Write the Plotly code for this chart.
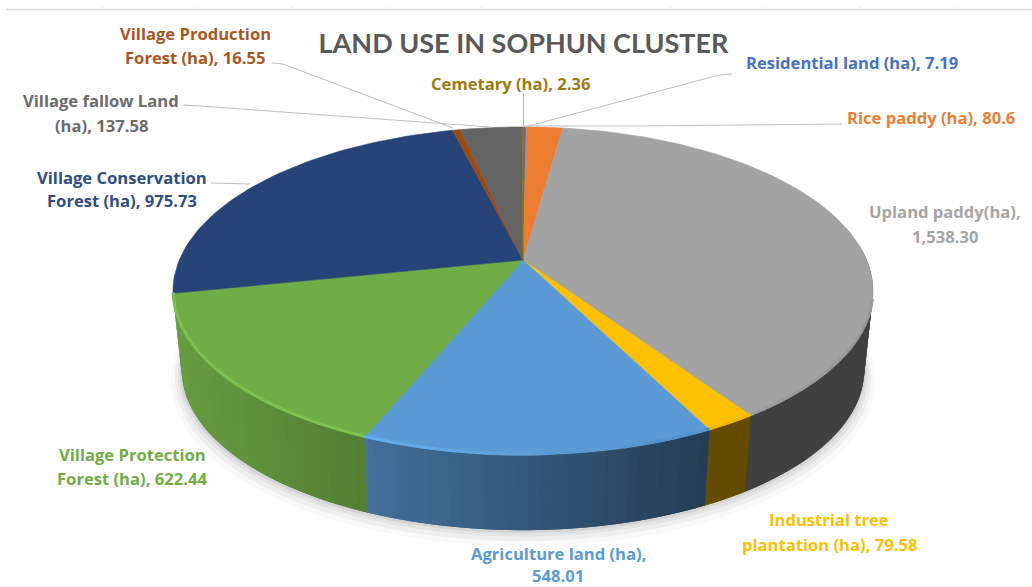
import math
import plotly.graph_objects as go

# ---- data ----
categories = ["Residential land (ha)", "Rice paddy (ha)", "Upland paddy(ha)",
              "Industrial tree plantation (ha)", "Agriculture land (ha)",
              "Village Protection Forest (ha)", "Village Conservation Forest (ha)",
              "Village Production Forest (ha)", "Village fallow Land (ha)", "Cemetary (ha)"]
values = [7.19, 80.6, 1538.30, 79.58, 548.01, 622.44, 975.73, 16.55, 137.58, 2.36]
colors = ["#4472C4", "#ED7D31", "#A3A3A3", "#FFC000", "#5B9BD5",
          "#70AD47", "#264478", "#9E480E", "#636363", "#997300"]
title_text = "LAND USE IN SOPHUN CLUSTER"

# label text lines: (line, center x, center y, colour)
label_lines = [
    ("Village Production", 195, 33, "#A9571F"), ("Forest (ha), 16.55", 195, 57, "#A9571F"),
    ("Village fallow Land", 101, 100, "#6B6B6B"), ("(ha), 137.58", 101, 125, "#6B6B6B"),
    ("Village Conservation", 122, 177, "#2F4E82"), ("Forest (ha), 975.73", 122, 200, "#2F4E82"),
    ("Village Protection", 132, 454, "#70AD47"), ("Forest (ha), 622.44", 132, 478, "#70AD47"),
    ("Cemetary (ha), 2.36", 510, 83, "#9C7A10"),
    ("Residential land (ha), 7.19", 852, 62, "#4472C4"),
    ("Rice paddy (ha), 80.6", 931, 117, "#ED7D31"),
    ("Upland paddy(ha),", 945, 211, "#A5A5A5"), ("1,538.30", 945, 236, "#A5A5A5"),
    ("Industrial tree", 829, 519, "#FFC000"), ("plantation (ha), 79.58", 829, 544, "#FFC000"),
    ("Agriculture land (ha),", 558, 553, "#5B9BD5"), ("548.01", 558, 575, "#5B9BD5"),
]
# leader lines
leaders = [
    [(272, 63), (283, 64), (453, 128)],
    [(183, 105), (200, 106), (490, 127)],
    [(211, 183), (250, 184)],
    [(523.5, 93), (523.5, 127)],
    [(732, 74), (719, 75), (525, 127)],
    [(842, 124), (640, 126), (525, 126)],
]

# ---- projection of the tilted disc ----
CX, CY, A, B, K = 523.0, 260.0, 343.7, 158.2, 0.189
DEPTH, SHRINK = 80.0, 0.975


def top(angle):
    u, v = math.sin(angle), -math.cos(angle)
    w = 1 - K * v
    return CX + A * u / w, CY + B * v / w


def bottom(angle, grow=0.0, dx=0.0, dy=0.0):
    x, y = top(angle)
    s = SHRINK + grow
    return CX + s * (x - CX) + dx, CY + DEPTH + s * (y - CY) + dy


def rgb(hexc):
    return tuple(int(hexc[i:i + 2], 16) for i in (1, 3, 5))


def shade(hexc, f):
    r = rgb(hexc)
    return "rgb(%d,%d,%d)" % tuple(max(0, min(255, round(c * f))) for c in r)


def wall_factor(x):
    return max(0.39, 0.72 - (x - 370) * 0.32 / 330)


def rim_factor(x):
    if x < 370:
        return 1.12
    if x < 560:
        return 1.12 - 0.12 * (x - 370) / 190
    if x < 620:
        return 1.0
    return 0.95


total = sum(values)
edges = [0.0]
for val in values:
    edges.append(edges[-1] + val / total * 2 * math.pi)

fig = go.Figure()


def poly(pts, fill, line=None, lw=0.8):
    fig.add_trace(go.Scatter(
        x=[p[0] for p in pts], y=[p[1] for p in pts], mode="lines",
        fill="toself", fillcolor=fill, hoverinfo="skip", showlegend=False,
        line=dict(color=line or fill, width=lw)))


# soft shadow beneath the disc
ring = [i / 180 * 2 * math.pi for i in range(181)]
for grow, dy, alpha in [(0.030, 10, 0.04), (0.020, 7, 0.06), (0.012, 4, 0.08), (0.005, 2, 0.10)]:
    poly([bottom(t, grow=grow, dy=dy) for t in ring], "rgba(90,90,90,%.2f)" % alpha, lw=0)

# side wall, in narrow strips so it can be shaded across its width;
# each strip runs under the next one, so no seams show
W0, W1 = math.radians(85), edges[6]
for i, col in enumerate(colors):
    a0, a1 = max(edges[i], W0), min(edges[i + 1], W1)
    if a1 <= a0:
        continue
    n = max(1, int(math.degrees(a1 - a0) / 1.5))
    step = (a1 - a0) / n
    for j in range(n):
        s0 = a0 + step * j
        s1 = min(s0 + 2 * step, W1)
        xm = top(s0 + step / 2)[0]
        arc = [top(s0), top((s0 + s1) / 2), top(s1)]
        low = [bottom(s1), bottom((s0 + s1) / 2), bottom(s0)]
        poly(arc + low + [top(s0)], shade(col, wall_factor(xm)), lw=0)

# top face
for i, col in enumerate(colors):
    a0, a1 = edges[i], edges[i + 1]
    n = max(2, int(math.degrees(a1 - a0) / 1.5))
    arc = [top(a0 + (a1 - a0) * j / n) for j in range(n + 1)]
    poly([(CX, CY)] + arc + [(CX, CY)], col, lw=0.6)

# lit bevel along the front rim
R0 = math.radians(104)
for i, col in enumerate(colors):
    a0, a1 = max(edges[i], R0), min(edges[i + 1], W1)
    if a1 <= a0:
        continue
    n = max(1, int(math.degrees(a1 - a0) / 2.5))
    for j in range(n):
        s0 = a0 + (a1 - a0) * j / n
        s1 = a0 + (a1 - a0) * (j + 1) / n
        p0, p1 = top(s0), top(s1)
        f = rim_factor((p0[0] + p1[0]) / 2)
        if abs(f - 1) < 0.005:
            continue
        fig.add_trace(go.Scatter(
            x=[p0[0], p1[0]], y=[p0[1] - 1, p1[1] - 1], mode="lines",
            hoverinfo="skip", showlegend=False,
            line=dict(color=shade(col, f), width=3)))

shapes = []
# sheet line and tick stubs behind the chart
shapes.append(dict(type="line", x0=6, x1=1032, y0=9.5, y1=9.5, line=dict(color="#DADADA", width=1.5)))
for k in range(10):
    tx = 103 + k * 94.6
    shapes.append(dict(type="line", x0=tx, x1=tx, y0=7, y1=9.5, line=dict(color="#E2E2E2", width=1)))
for path in leaders:
    d = "M " + " L ".join("%g %g" % p for p in path)
    shapes.append(dict(type="path", path=d, line=dict(color="#BFBFBF", width=1)))

annotations = [
    dict(text=t, x=x, y=y, xref="x", yref="y", showarrow=False, xanchor="center", yanchor="middle",
         borderpad=0, font=dict(family="Open Sans, sans-serif", size=16.6, color=c, weight=700))
    for t, x, y, c in label_lines
]

fig.update_layout(
    width=1032, height=587, autosize=False,
    margin=dict(l=0, r=0, t=0, b=0),
    paper_bgcolor="white", plot_bgcolor="white", showlegend=False,
    title=dict(text=title_text, x=523.5 / 1032, y=1 - 44 / 587, xanchor="center", yanchor="middle",
               xref="paper", yref="paper",
               font=dict(family="Lato, sans-serif", size=27, color="#595959", weight=700)),
    xaxis=dict(range=[0, 1032], visible=False, fixedrange=True),
    yaxis=dict(range=[587, 0], visible=False, fixedrange=True),
    shapes=shapes, annotations=annotations,
)
fig.write_html("out.html", config={"displayModeBar": False},
               post_script="document.body.style.margin='0';document.body.style.overflow='hidden';")
